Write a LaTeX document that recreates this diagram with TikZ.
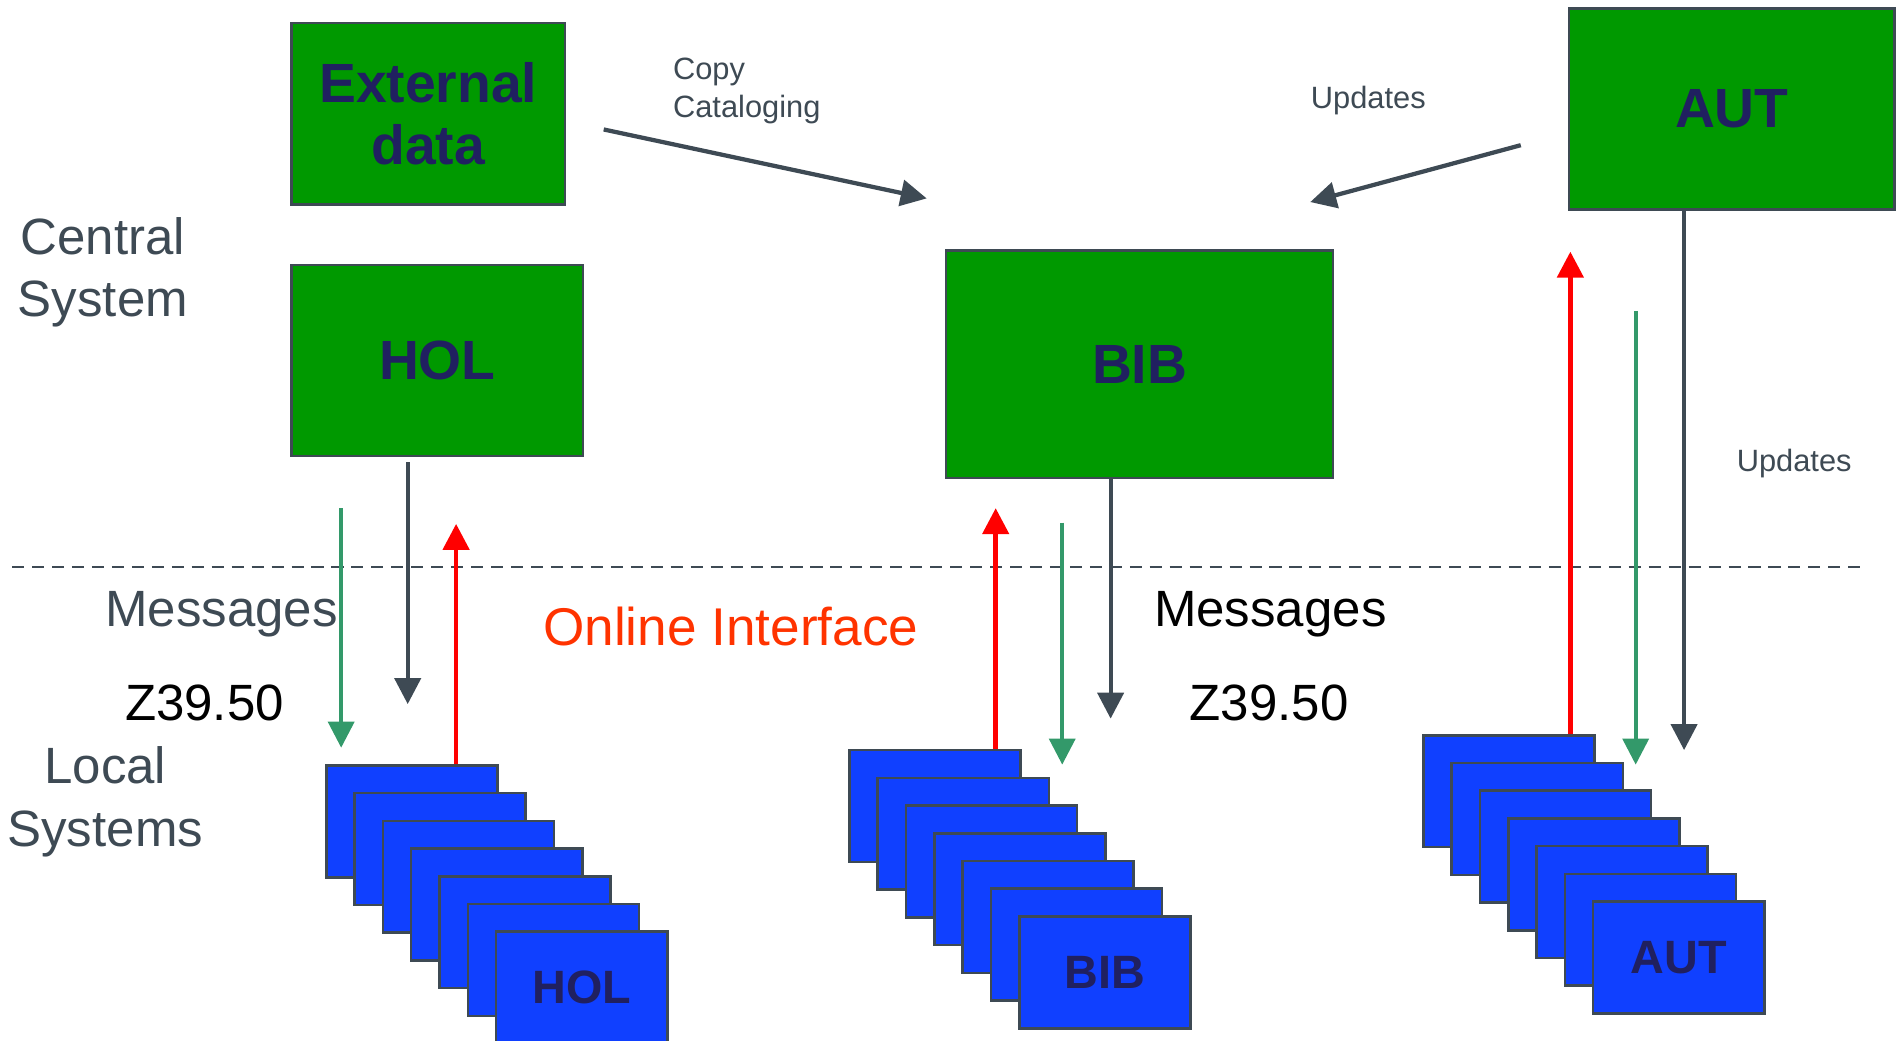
\documentclass[tikz,border=0pt]{standalone}
\usepackage{fontspec}
\setmainfont{Liberation Sans}
\usetikzlibrary{arrows.meta}
\definecolor{boxgreen}{HTML}{009900}
\definecolor{localblue}{HTML}{1040FF}
\definecolor{labelnavy}{HTML}{202060}
\definecolor{slate}{HTML}{3E4A54}
\definecolor{msggreen}{HTML}{33996A}
\definecolor{onlinered}{HTML}{FF3300}
\tikzstyle{centralsys}=[%
      rectangle, draw=slate, line width=1.2pt, fill=boxgreen, text=labelnavy,
      font=\fontsize{26}{29}\selectfont\bfseries, align=center, inner sep=0pt
]
\tikzstyle{localsys}=[%
      rectangle, draw=slate, line width=1.2pt, fill=localblue, text=labelnavy,
      font=\fontsize{22}{26}\selectfont\bfseries, anchor=north west,
      minimum width=2.83cm, minimum height=1.85cm, inner sep=0pt
]
\tikzstyle{sidelabel}=[text=slate, font=\fontsize{24}{29.5}\selectfont, align=center, inner sep=0pt]
\tikzstyle{notelabel}=[text=slate, font=\fontsize{14.5}{17.6}\selectfont, align=left, inner sep=0pt]
\tikzstyle{biglabel}=[font=\fontsize{24}{29}\selectfont, inner sep=0pt]
\tikzstyle{updarrow}=[->, draw=slate, line width=2pt]
\tikzstyle{msgarrow}=[->, draw=msggreen, line width=1.7pt]
\tikzstyle{onlinearrow}=[->, draw=red, line width=2.2pt]
\begin{document}
\begin{tikzpicture}[x=0.02cm, y=-0.02cm,
    >={Triangle[width=0.43cm,length=0.43cm]}
  ]
    \useasboundingbox (0,0) rectangle (1568,860);

    % central system
    \node[centralsys, minimum width=4.52cm, minimum height=3cm]    (ext)  at (354,94)    {External\\data};
    \node[centralsys, minimum width=4.82cm, minimum height=3.16cm] (holc) at (361.5,298) {HOL};
    \node[centralsys, minimum width=6.4cm, minimum height=3.76cm]  (bibc) at (942,301)   {BIB};
    \node[centralsys, minimum width=5.38cm, minimum height=3.32cm] (autc) at (1431.5,90) {AUT};

    % local systems
    \foreach \i in {0,...,5} {
      \node[localsys] (hol\i) at ({268.6+23.4*\i},{631.6+22.9*\i}) {};
      \node[localsys] (bib\i) at ({701+23.4*\i},{619+22.9*\i}) {};
      \node[localsys] (aut\i) at ({1175.4+23.4*\i},{606.7+22.9*\i}) {};
    }
    \node[localsys] (hol6) at ({268.6+23.4*6},{631.6+22.9*6}) {HOL};
    \node[localsys] (bib6) at ({701+23.4*6},{619+22.9*6}) {BIB};
    \node[localsys] (aut6) at ({1175.4+23.4*6},{606.7+22.9*6}) {AUT};

    % labels
    \node[sidelabel] (central) at (85,225) {Central\\System};
    \node[sidelabel] (local)   at (87,663) {Local\\Systems};
    \node[notelabel, anchor=west] (copy) at (556,75) {Copy\\Cataloging};
    \node[notelabel] (upd1) at (1131,83)  {Updates};
    \node[notelabel] (upd2) at (1483,383) {Updates};
    \node[biglabel, text=slate] (msgl) at (183,508) {Messages};
    \node[biglabel] (zl)   at (169,581)  {Z39.50};
    \node[biglabel, text=onlinered, font=\fontsize{25}{30}\selectfont] (onl) at (604,518) {Online Interface};
    \node[biglabel] (msgr) at (1050,508) {Messages};
    \node[biglabel] (zr)   at (1049,581) {Z39.50};

    % divider
    \coordinate (dashL) at (10,469);
    \coordinate (dashR) at (1540,469);
    \draw[slate, line width=0.9pt, dash pattern=on 0.2cm off 0.13cm] (dashL) -- (dashR);

    % copy cataloging and updates
    \coordinate (copyS) at (499,107);
    \coordinate (copyE) at (766,164);
    \draw[updarrow] (copyS) -- (copyE);
    \coordinate (updS) at (1257,120);
    \coordinate (updE) at (1083,167);
    \draw[updarrow] (updS) -- (updE);

    % HOL
    \coordinate (hmsgS) at (282,420);
    \coordinate (hmsgE) at (282,618);
    \draw[msgarrow] (hmsgS) -- (hmsgE);
    \coordinate (hupdS) at (337,382);
    \coordinate (hupdE) at (337,582);
    \draw[updarrow] (hupdS) -- (hupdE);
    \coordinate (honE) at (377,433);
    \draw[onlinearrow] (hol0.north -| honE) -- (honE);

    % BIB
    \coordinate (bonE) at (823,420);
    \draw[onlinearrow] (bib0.north -| bonE) -- (bonE);
    \coordinate (bmsgS) at (878,432);
    \coordinate (bmsgE) at (878,632);
    \draw[msgarrow] (bmsgS) -- (bmsgE);
    \coordinate (bupdE) at (918,594);
    \draw[updarrow] (bibc.south -| bupdE) -- (bupdE);

    % AUT
    \coordinate (aonE) at (1298,208);
    \draw[onlinearrow] (aut0.north -| aonE) -- (aonE);
    \coordinate (amsgS) at (1352,257);
    \coordinate (amsgE) at (1352,632);
    \draw[msgarrow] (amsgS) -- (amsgE);
    \coordinate (aupdE) at (1392,620);
    \draw[updarrow] (autc.south -| aupdE) -- (aupdE);
  \end{tikzpicture}
\end{document}
